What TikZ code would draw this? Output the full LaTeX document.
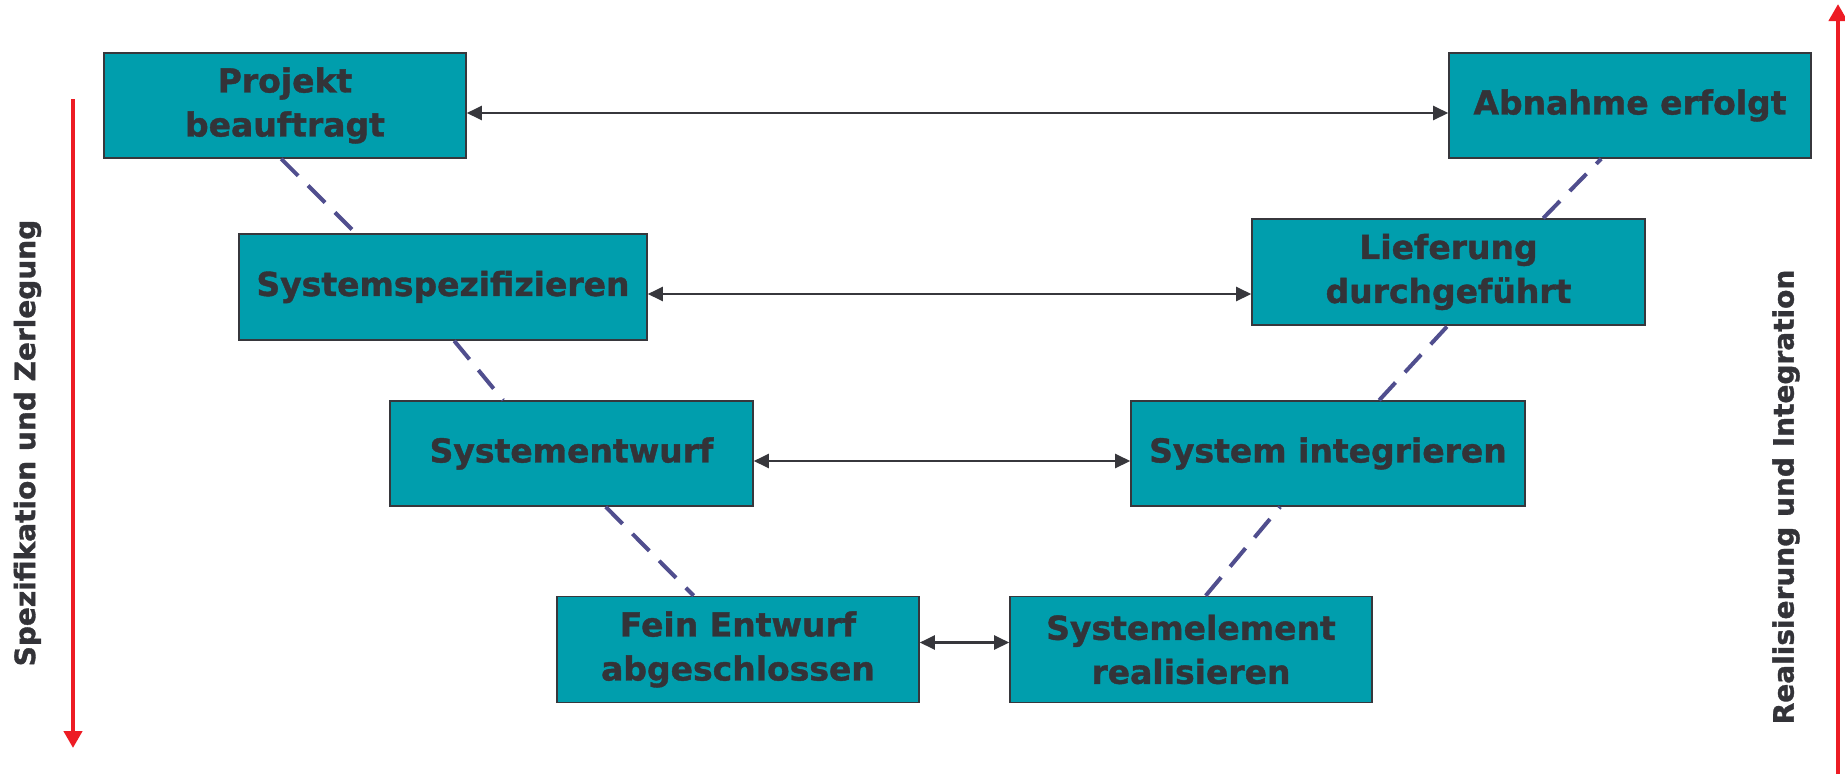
\documentclass[tikz,border=0pt]{standalone}
\usepackage{fontspec}
\setmainfont{DejaVu Sans}
\newfontfamily\heavyfont{DejaVu Sans Bold}[FakeBold=1.2]
\usetikzlibrary{arrows.meta,calc}
\definecolor{boxfill}{RGB}{0,158,173}
\definecolor{boxline}{RGB}{55,55,60}
\definecolor{txt}{RGB}{51,51,56}
\definecolor{dashc}{RGB}{80,78,142}
\definecolor{redc}{RGB}{237,28,36}
\begin{document}
\begin{tikzpicture}[x=1pt,y=-1pt,
 phase/.style={draw=boxline, line width=1.6pt, fill=boxfill, text=txt,
   font=\heavyfont\fontsize{33}{44}\selectfont, align=center, inner sep=0pt},
 link/.style={draw=boxline, line width=2.4pt,
   {Triangle[length=15pt,width=14pt]}-{Triangle[length=15pt,width=14pt]}},
 trace/.style={draw=dashc, line width=4pt, dash pattern=on 24pt off 14pt},
 axis/.style={draw=redc, line width=4.5pt, -{Triangle[length=17pt,width=18pt]}},
 sidelabel/.style={text=txt, font=\heavyfont\fontsize{28}{32}\selectfont, rotate=90, inner sep=0pt}]
\useasboundingbox (0,0) rectangle (1845,774);

% boxes
\node[phase, minimum width=362pt, minimum height=105pt] (b1) at (285,105.5) {Projekt\\beauftragt};
\node[phase, minimum width=362pt, minimum height=105pt] (b2) at (1630,105.5) {Abnahme erfolgt};
\node[phase, minimum width=408pt, minimum height=106pt] (b3) at (443,287) {Systemspezifizieren};
\node[phase, minimum width=393pt, minimum height=106pt] (b4) at (1448.5,272) {Lieferung\\durchgeführt};
\node[phase, minimum width=363pt, minimum height=105pt] (b5) at (571.5,453.5) {Systementwurf};
\node[phase, minimum width=394pt, minimum height=105pt] (b6) at (1328,453.5) {System integrieren};
\node[phase, minimum width=362pt, minimum height=106pt] (b7) at (738,649.5) {Fein Entwurf\\abgeschlossen};
\node[phase, minimum width=362pt, minimum height=106pt] (b8) at (1191,649.5) {Systemelement\\realisieren};

% horizontal links
\draw[link] ([yshift=-7.5pt]b1.east) -- ([yshift=-7.5pt]b2.west);
\draw[link] ([yshift=-7pt]b3.east) -- ([yshift=-22pt]b4.west);
\draw[link] ([yshift=-7.5pt]b5.east) -- ([yshift=-7.5pt]b6.west);
\draw[link] ([yshift=7pt]b7.east) -- ([yshift=7pt]b8.west);

% dashed traces
\draw[trace] ($(b1.south west)+(178,0)$) -- ($(b3.north west)+(117.5,0)$);
\draw[trace] ($(b3.south west)+(216,0)$) -- ($(b5.north west)+(114,0)$);
\draw[trace] ($(b5.south west)+(216.5,0)$) -- ($(b7.north west)+(137.5,0)$);
\draw[trace] ($(b8.north west)+(196.5,0)$) -- ($(b6.south west)+(150,0)$);
\draw[trace] ($(b6.north west)+(249,0)$) -- ($(b4.south west)+(196.5,0)$);
\draw[trace] ($(b4.north west)+(292,0)$) -- ($(b2.south west)+(153,0)$);

% side axes
\coordinate (ltop) at (73,99);
\coordinate (lbot) at (73,748);
\draw[axis] (ltop) -- (lbot);
\coordinate (rbot) at (1838,774);
\coordinate (rtop) at (1838,4);
\draw[axis] (rbot) -- (rtop);

\node[sidelabel] (lleft) at (27.5,443) {Spezifikation und Zerlegung};
\node[sidelabel] (lright) at (1786,497) {Realisierung und Integration};
\end{tikzpicture}
\end{document}
